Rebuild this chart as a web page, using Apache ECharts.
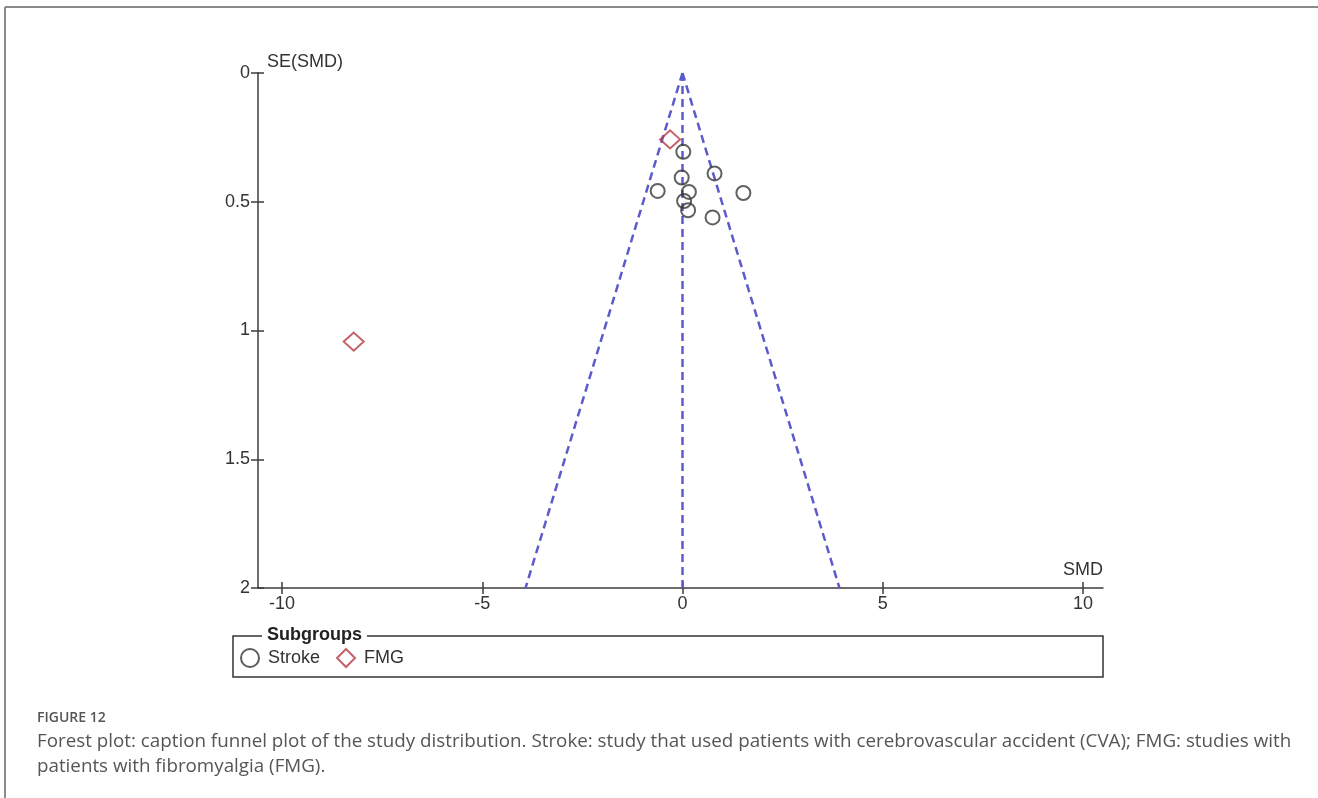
<!DOCTYPE html>
<html>
<head>
<meta charset="utf-8">
<script src="https://cdn.jsdelivr.net/npm/echarts@6/dist/echarts.min.js"></script>
<style>
  * { margin: 0; padding: 0; }
  body { background: #fff; }
  #chart { width: 1318px; height: 798px; }
</style>
</head>
<body>
<div id="chart"></div>
<script>
// SMD / SE(SMD) pairs
const strokeSMD = [0.02, -0.02, 0.80, -0.62, 0.16, 1.52, 0.04, 0.14, 0.75];
const strokeSE  = [0.306, 0.406, 0.39, 0.458, 0.462, 0.466, 0.497, 0.533, 0.561];
const fmgSMD = [-0.31, -8.21];
const fmgSE  = [0.258, 1.043];

// funnel (95% limits) end points and centre line
const funnelLeft  = [[0, 0], [-3.92, 2]];
const funnelRight = [[0, 0], [3.92, 2]];
const centreLine  = [[0, 0], [0, 2]];

const xTicks = [-10, -5, 0, 5, 10];
const yTicks = [0, 0.5, 1, 1.5, 2];

const axisColor = '#3c3c3c';
const chartFont = 'Liberation Sans, Arial, sans-serif';
const labelFont = { color: '#333', fontSize: 18, fontFamily: chartFont };
const captionFont = 'Open Sans, Noto Sans, sans-serif';

let chart = echarts.init(document.getElementById('chart'));

const dashed = {
  type: 'line',
  symbol: 'none',
  silent: true,
  lineStyle: { color: '#5b5bcb', width: 2.5, type: [8, 5] },
  z: 1
};

// a second, label-less axis gives the ticks that cross the axis line
function tickAxis(base, ticks) {
  return Object.assign({
    type: 'value',
    splitLine: { show: false },
    axisLine: { show: false, onZero: false },
    axisTick: { customValues: ticks, inside: true, length: 6, lineStyle: { color: axisColor, width: 1.5 } },
    axisLabel: { show: false }
  }, base);
}

chart.setOption({
  animation: false,
  grid: { left: 258, top: 73, width: 845, height: 515 },
  xAxis: [
    {
      type: 'value', min: -10.6, max: 10.5,
      splitLine: { show: false },
      axisLine: { onZero: false, lineStyle: { color: axisColor, width: 1.5 } },
      axisTick: { customValues: xTicks, length: 6, lineStyle: { color: axisColor, width: 1.5 } },
      axisLabel: Object.assign({ customValues: xTicks, margin: 7 }, labelFont)
    },
    tickAxis({ min: -10.6, max: 10.5, position: 'bottom' }, xTicks)
  ],
  yAxis: [
    {
      type: 'value', min: 0, max: 2, inverse: true,
      splitLine: { show: false },
      axisLine: { onZero: false, lineStyle: { color: axisColor, width: 1.5 } },
      axisTick: { customValues: yTicks, length: 7, lineStyle: { color: axisColor, width: 1.5 } },
      axisLabel: Object.assign({ customValues: yTicks, margin: 8 }, labelFont)
    },
    tickAxis({ min: 0, max: 2, inverse: true, position: 'left' }, yTicks)
  ],
  legend: {
    left: 240, top: 648,
    padding: 0,
    itemGap: 16, itemWidth: 18, itemHeight: 18,
    textStyle: Object.assign({ padding: [0, 0, 0, 4] }, labelFont),
    data: [
      { name: 'Stroke', icon: 'circle', itemStyle: { color: '#fff', borderColor: '#333', borderWidth: 2 } },
      { name: 'FMG', icon: 'diamond', itemStyle: { color: '#fff', borderColor: '#b83a43', borderWidth: 2 } }
    ]
  },
  series: [
    Object.assign({ data: funnelLeft }, dashed),
    Object.assign({ data: funnelRight }, dashed),
    Object.assign({ data: centreLine }, dashed),
    {
      name: 'Stroke', type: 'scatter', symbol: 'circle', symbolSize: 14,
      itemStyle: { color: 'rgba(255,255,255,0)', borderColor: '#3a3a3a', borderWidth: 2 },
      data: strokeSMD.map((v, i) => [v, strokeSE[i]]),
      z: 3
    },
    {
      name: 'FMG', type: 'scatter', symbol: 'diamond', symbolSize: [20, 18],
      itemStyle: { color: 'rgba(255,255,255,0)', borderColor: '#b83a43', borderWidth: 2 },
      data: fmgSMD.map((v, i) => [v, fmgSE[i]]),
      z: 3
    }
  ],
  graphic: [
    // outer frame of the figure
    { type: 'line', shape: { x1: 5, y1: 7, x2: 1318, y2: 7 }, style: { stroke: '#8a8a8a', lineWidth: 2 } },
    { type: 'line', shape: { x1: 5, y1: 7, x2: 5, y2: 798 }, style: { stroke: '#8a8a8a', lineWidth: 2 } },
    // axis titles
    { type: 'text', left: 267, top: 53, style: { text: 'SE(SMD)', fill: '#333', fontSize: 18, fontFamily: chartFont } },
    { type: 'text', right: 215, top: 561, style: { text: 'SMD', fill: '#333', fontSize: 18, fontFamily: chartFont } },
    // subgroup legend box
    { type: 'rect', shape: { x: 233, y: 636, width: 870, height: 41 }, style: { fill: 'none', stroke: '#333', lineWidth: 1.5 } },
    { type: 'text', left: 262, top: 626, style: { text: ' Subgroups ', fill: '#222', fontSize: 18, fontWeight: 'bold', fontFamily: chartFont, backgroundColor: '#fff' } },
    // caption
    { type: 'text', left: 37, top: 711, style: { text: 'FIGURE 12', fill: '#555', fontSize: 14, fontWeight: 600, fontFamily: captionFont } },
    { type: 'text', left: 37, top: 732, style: { text: 'Forest plot: caption funnel plot of the study distribution. Stroke: study that used patients with cerebrovascular accident (CVA); FMG: studies with', fill: '#555', fontSize: 18.8, fontFamily: captionFont } },
    { type: 'text', left: 37, top: 757, style: { text: 'patients with fibromyalgia (FMG).', fill: '#555', fontSize: 18.8, fontFamily: captionFont } }
  ]
});
</script>
</body>
</html>
